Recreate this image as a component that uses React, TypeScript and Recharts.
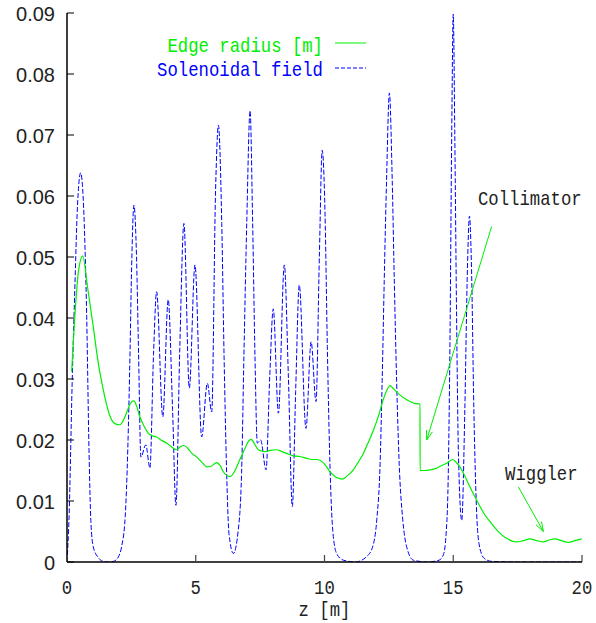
import React from 'react';
import { LineChart, Line, XAxis, YAxis, ReferenceLine, ReferenceDot, Legend } from 'recharts';

// ---- data ----
const edgeZ = [0.18, 0.3, 0.45, 0.61, 0.8, 1.02, 1.2, 1.41, 1.6, 1.73, 1.9, 2.06, 2.25, 2.38, 2.52, 2.6, 2.7, 2.83, 3.0, 3.16, 3.3, 3.48, 3.65, 3.87, 4.05, 4.26, 4.4, 4.54, 4.7, 4.85, 5.04, 5.25, 5.43, 5.6, 5.81, 5.95, 6.07, 6.33, 6.5, 6.65, 6.8, 6.91, 7.05, 7.15, 7.25, 7.39, 7.55, 7.69, 7.9, 8.14, 8.35, 8.53, 8.79, 9.05, 9.31, 9.5, 9.7, 9.95, 10.1, 10.21, 10.45, 10.71, 10.9, 11.12, 11.3, 11.51, 11.7, 11.9, 12.1, 12.28, 12.45, 12.54, 12.7, 12.93, 13.12, 13.32, 13.5, 13.71, 13.712, 13.9, 14.1, 14.3, 14.49, 14.75, 14.98, 15.1, 15.26, 15.45, 15.65, 15.85, 16.04, 16.23, 16.43, 16.62, 16.82, 17.1, 17.46, 17.72, 17.98, 18.24, 18.5, 18.72, 18.95, 19.2, 19.47, 19.73, 19.99];
const edgeR = [0.0312, 0.040, 0.0478, 0.0502, 0.045, 0.0386, 0.033, 0.0282, 0.0248, 0.0233, 0.0226, 0.0225, 0.0238, 0.0252, 0.0263, 0.0264, 0.0256, 0.0238, 0.0222, 0.0211, 0.0207, 0.0205, 0.0200, 0.0195, 0.0189, 0.0184, 0.0189, 0.0191, 0.0186, 0.0178, 0.0172, 0.0163, 0.0156, 0.0157, 0.0163, 0.0158, 0.0148, 0.0140, 0.0148, 0.0162, 0.0176, 0.0186, 0.0198, 0.0201, 0.0196, 0.0186, 0.0182, 0.0181, 0.0183, 0.0184, 0.0181, 0.0178, 0.0174, 0.0173, 0.0170, 0.0168, 0.0168, 0.0163, 0.0155, 0.0148, 0.0139, 0.0136, 0.0142, 0.0151, 0.0163, 0.0178, 0.0196, 0.0216, 0.0240, 0.0266, 0.0284, 0.0289, 0.0283, 0.0274, 0.0268, 0.0263, 0.0260, 0.0259, 0.0150, 0.0150, 0.0151, 0.0153, 0.0157, 0.0162, 0.0168, 0.0164, 0.0156, 0.0141, 0.0123, 0.0106, 0.0091, 0.0077, 0.0066, 0.0056, 0.0047, 0.0038, 0.0033, 0.0035, 0.0038, 0.0035, 0.0033, 0.0036, 0.0038, 0.0035, 0.0032, 0.0035, 0.0038];

const fieldZ = [0, 0.08, 0.2, 0.31, 0.4, 0.53, 0.66, 0.765, 0.854, 0.93, 1.02, 1.22, 1.4, 1.6, 1.8, 1.99, 2.12, 2.26, 2.36, 2.45, 2.51, 2.6, 2.7, 2.78, 2.87, 3.06, 3.22, 3.36, 3.48, 3.72, 3.93, 4.1, 4.23, 4.38, 4.54, 4.75, 4.97, 5.23, 5.45, 5.62, 5.77, 5.88, 6.01, 6.1, 6.2, 6.29, 6.46, 6.65, 6.78, 6.87, 6.98, 7.11, 7.21, 7.3, 7.39, 7.52, 7.73, 7.87, 8.01, 8.21, 8.44, 8.6, 8.75, 8.88, 9.02, 9.28, 9.48, 9.67, 9.8, 9.91, 10.02, 10.11, 10.21, 10.32, 10.47, 10.73, 11.2, 11.64, 11.87, 12.03, 12.16, 12.24, 12.32, 12.41, 12.52, 12.63, 12.71, 12.8, 12.9, 13.04, 13.19, 13.45, 14.0, 14.45, 14.62, 14.72, 14.8, 14.87, 14.94, 15.0, 15.06, 15.13, 15.2, 15.33, 15.45, 15.55, 15.63, 15.71, 15.8, 15.9, 16.0, 16.2, 16.5, 17.5, 20];
const fieldB = [0, 0.0074, 0.0293, 0.0457, 0.0577, 0.0638, 0.0566, 0.0402, 0.0184, 0.0064, 0.0025, 0.0007, 0.0001, 0, 0.0001, 0.0008, 0.0025, 0.0074, 0.0184, 0.0348, 0.0484, 0.0585, 0.050, 0.034, 0.0172, 0.0192, 0.0154, 0.034, 0.0443, 0.0238, 0.0430, 0.025, 0.0093, 0.035, 0.0555, 0.0285, 0.0487, 0.0205, 0.0293, 0.0246, 0.061, 0.0716, 0.0555, 0.0337, 0.0146, 0.0047, 0.0014, 0.0052, 0.0146, 0.0337, 0.0555, 0.0740, 0.0555, 0.0337, 0.0195, 0.0200, 0.0151, 0.030, 0.0415, 0.0244, 0.0487, 0.030, 0.0091, 0.028, 0.0454, 0.0219, 0.0361, 0.0263, 0.050, 0.0675, 0.0572, 0.0353, 0.0162, 0.0052, 0.0014, 0.0003, 0, 0.0009, 0.0025, 0.0069, 0.0162, 0.0298, 0.0462, 0.0626, 0.0769, 0.0626, 0.0462, 0.0298, 0.0162, 0.0069, 0.0025, 0.0003, 0, 0.0003, 0.0012, 0.0045, 0.013, 0.035, 0.070, 0.0898, 0.070, 0.040, 0.018, 0.0068, 0.025, 0.048, 0.0567, 0.048, 0.025, 0.009, 0.003, 0.0006, 0.0001, 0, 0];

const seriesNames = ['Edge radius [m]', 'Solenoidal field'];
const seriesColors = ['#00ee00', '#0000ff'];

const xTicks = [0, 5, 10, 15, 20];
const xTickLabels = ['0', '5', '10', '15', '20'];
const yTicks = [0, 0.01, 0.02, 0.03, 0.04, 0.05, 0.06, 0.07, 0.08, 0.09];
const yTickLabels = ['0', '0.01', '0.02', '0.03', '0.04', '0.05', '0.06', '0.07', '0.08', '0.09'];
const xLabel = 'z [m]';

const annotationText = ['Collimator', 'Wiggler'];
const annotationTextAt = [[15.96, 0.0585], [17.01, 0.0134]];
const arrowFrom = [[16.49, 0.055], [17.53, 0.0123]];
const arrowTo = [[13.97, 0.02], [18.5, 0.005]];

// ---- tables built from the arrays ----
const edgeData = edgeZ.map((z, i) => ({ z, r: edgeR[i] }));
const fieldData = fieldZ.map((z, i) => ({ z, b: fieldB[i] }));

const MONO = '"Liberation Mono", "DejaVu Sans Mono", monospace';
const SANS = '"Liberation Sans", Arial, sans-serif';
const TEXT = '#222';
const FRAME = '#444';

const MonoText = ({ x, y, anchor = 'start', fill = TEXT, sy = 1.22, children }: any) => (
  <text
    transform={`translate(${x},${y}) scale(1,${sy})`}
    x={0}
    y={0}
    textAnchor={anchor}
    fontFamily={MONO}
    fontSize={17.3}
    fill={fill}
  >
    {children}
  </text>
);

const LeftTick = (props: any) => {
  const { x, y, index } = props;
  return (
    <g>
      <line x1={x} y1={y} x2={x + 7} y2={y} stroke="#000" strokeWidth={1} />
      <text x={x - 12} y={y + 7.5} textAnchor="end" fontFamily={SANS} fontSize={20} fill={TEXT}>
        {yTickLabels[index]}
      </text>
    </g>
  );
};

const RightTick = (props: any) => {
  const { x, y } = props;
  return <line x1={x} y1={y} x2={x - 7} y2={y} stroke={FRAME} strokeWidth={1} />;
};

const BottomTick = (props: any) => {
  const { x, y, index } = props;
  return (
    <g>
      <line x1={x} y1={y} x2={x} y2={y - 7} stroke={FRAME} strokeWidth={1.2} />
      <MonoText x={x} y={y + 31.5} anchor="middle" sy={1.12}>{xTickLabels[index]}</MonoText>
    </g>
  );
};

const TopTick = (props: any) => {
  const { x, y } = props;
  return <line x1={x} y1={y} x2={x} y2={y + 7} stroke={FRAME} strokeWidth={1.2} />;
};

const XLabelContent = (props: any) => {
  const vb = props.viewBox || {};
  return (
    <MonoText x={vb.x + vb.width / 2} y={vb.y + 54} anchor="middle" sy={1.12}>
      {xLabel}
    </MonoText>
  );
};

const Arrow = (props: any) => {
  const { x1, y1, x2, y2 } = props;
  const ang = Math.atan2(y2 - y1, x2 - x1);
  const L = 10;
  const a = 0.32;
  const ax = x2 - L * Math.cos(ang - a);
  const ay = y2 - L * Math.sin(ang - a);
  const bx = x2 - L * Math.cos(ang + a);
  const by = y2 - L * Math.sin(ang + a);
  return (
    <g>
      <line x1={x1} y1={y1} x2={x2} y2={y2} stroke={seriesColors[0]} strokeWidth={1} />
      <polyline points={`${ax},${ay} ${x2},${y2} ${bx},${by}`} fill="none" stroke={seriesColors[0]} strokeWidth={1} />
    </g>
  );
};

const renderLegend = () => (
  <svg width={240} height={60} style={{ display: 'block', overflow: 'visible' }}>
    {seriesNames.map((name, i) => (
      <g key={name}>
        <MonoText x={173} y={27.3 + i * 24} anchor="end" fill={seriesColors[i]}>
          {name}
        </MonoText>
        <line
          x1={185}
          x2={216}
          y1={18 + i * 25}
          y2={18 + i * 25}
          stroke={seriesColors[i]}
          strokeWidth={1}
          strokeDasharray={i === 1 ? '4 2' : undefined}
        />
      </g>
    ))}
  </svg>
);

export default function App() {
  return (
    <div style={{ position: 'absolute', left: 0, top: 0, background: '#fff' }}>
      <LineChart width={596} height={623} margin={{ top: 13, right: 14, bottom: 21, left: 7 }}>
        <XAxis
          type="number"
          dataKey="z"
          domain={[0, 20]}
          ticks={xTicks}
          interval={0}
          height={40}
          tickSize={0}
          tickMargin={0}
          tickLine={false}
          axisLine={{ stroke: '#000', strokeWidth: 1.5 }}
          tick={<BottomTick />}
          label={XLabelContent}
          allowDataOverflow
        />
        <XAxis
          xAxisId="top"
          orientation="top"
          type="number"
          dataKey="z"
          domain={[0, 20]}
          ticks={xTicks}
          interval={0}
          height={0}
          tickSize={0}
          tickMargin={0}
          tickLine={false}
          axisLine={{ stroke: FRAME, strokeWidth: 1.5 }}
          tick={<TopTick />}
          allowDataOverflow
        />
        <YAxis
          type="number"
          domain={[0, 0.09]}
          ticks={yTicks}
          interval={0}
          width={60}
          tickSize={0}
          tickMargin={0}
          tickLine={false}
          axisLine={{ stroke: '#000', strokeWidth: 1.5 }}
          tick={<LeftTick />}
          allowDataOverflow
        />
        <YAxis
          yAxisId="right"
          orientation="right"
          type="number"
          domain={[0, 0.09]}
          ticks={yTicks}
          interval={0}
          width={0}
          tickSize={0}
          tickMargin={0}
          tickLine={false}
          axisLine={{ stroke: FRAME, strokeWidth: 1.5 }}
          tick={<RightTick />}
          allowDataOverflow
        />
        <Line
          data={fieldData}
          dataKey="b"
          name={seriesNames[1]}
          type="monotone"
          stroke={seriesColors[1]}
          strokeWidth={1}
          strokeDasharray="5 2"
          dot={false}
          isAnimationActive={false}
        />
        <Line
          data={edgeData}
          dataKey="r"
          name={seriesNames[0]}
          type="monotone"
          stroke={seriesColors[0]}
          strokeWidth={1.2}
          dot={false}
          isAnimationActive={false}
        />
        {annotationText.map((t, i) => (
          <ReferenceLine
            key={`arrow-${t}`}
            segment={[
              { x: arrowFrom[i][0], y: arrowFrom[i][1] },
              { x: arrowTo[i][0], y: arrowTo[i][1] },
            ]}
            shape={Arrow}
          />
        ))}
        {annotationText.map((t, i) => (
          <ReferenceDot
            key={`text-${t}`}
            x={annotationTextAt[i][0]}
            y={annotationTextAt[i][1]}
            r={0}
            shape={(p: any) => (
              <MonoText x={p.cx} y={p.cy} anchor="start">
                {t}
              </MonoText>
            )}
          />
        ))}
        <Legend
          layout="vertical"
          align="center"
          verticalAlign="middle"
          wrapperStyle={{ left: 150, top: 25, width: 240, height: 60 }}
          content={renderLegend}
        />
      </LineChart>
    </div>
  );
}
